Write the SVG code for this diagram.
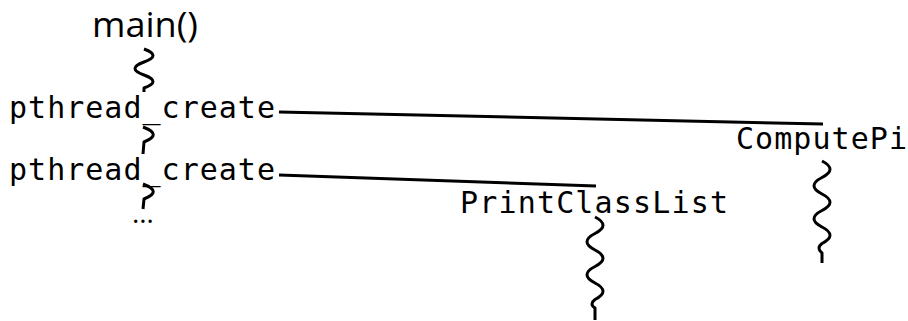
<svg xmlns="http://www.w3.org/2000/svg" width="908" height="321" viewBox="0 0 908 321">
<style>
.sans{font-family:"Open Sans","DejaVu Sans",sans-serif;fill:#000}
.mono{font-family:"DejaVu Sans Mono","Liberation Mono",monospace;font-size:30px;fill:#000}
.ln{fill:none;stroke:#000;stroke-width:3}
.sq{fill:none;stroke:#000;stroke-width:3;stroke-linejoin:round}
</style>
<rect width="908" height="321" fill="#fff"/>
<g id="node-main"><text class="sans" x="92" y="37" font-size="35" textLength="106" lengthAdjust="spacingAndGlyphs">main()</text></g>
<g id="node-create1"><text class="mono" x="9" y="118" textLength="266" lengthAdjust="spacing">pthread_create</text></g>
<g id="node-create2"><text class="mono" x="9" y="180" textLength="266" lengthAdjust="spacing">pthread_create</text></g>
<g id="node-dots"><text class="sans" x="143" y="223" font-size="28" text-anchor="middle">…</text></g>
<g id="node-computepi"><text class="mono" x="736" y="149" textLength="171" lengthAdjust="spacing">ComputePi</text></g>
<g id="node-printclasslist"><text class="mono" x="460" y="213" textLength="268" lengthAdjust="spacing">PrintClassList</text></g>
<g id="connectors">
<line class="ln" x1="279" y1="112" x2="823" y2="124"/>
<line class="ln" x1="279" y1="175" x2="596" y2="186"/>
<path class="sq" d="M144,49 Q162,55.5 144,62 T144,75 T144,88 L144,92"/>
<path class="sq" d="M143,127 Q163,134.5 144,142 L143,154"/>
<path class="sq" d="M143,184 Q163,191.5 144,199 L143,209"/>
<path class="sq" d="M822,161 Q838,169.25 822,177.5 T822,194 T822,210.5 T822,227 T822,243.5 Q816,248 822,253 L822,263"/>
<path class="sq" d="M595,217 Q611,225.25 595,233.5 T595,250 T595,266.5 T595,283 T595,299.5 Q589,304 595,308 L595,320"/>
</g>
</svg>
